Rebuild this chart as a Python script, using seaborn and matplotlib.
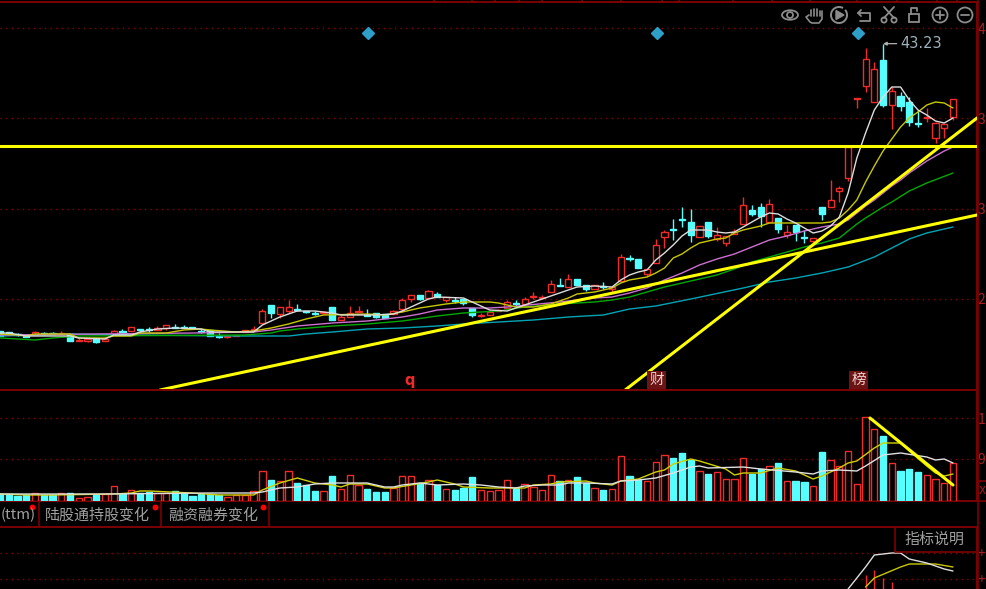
import matplotlib
matplotlib.use("Agg")
import matplotlib.pyplot as plt
from matplotlib.patches import Arc, Circle, Ellipse, Rectangle
import numpy as np
import pandas as pd
import seaborn as sns

# 1. Candles, one per trading day
opens = [14.5,14.4,14.2,14.1,14.2,14.3,14.3,14.2,14.2,13.5,
         13.5,13.8,13.5,14.1,14.5,14.5,14.7,14.7,14.6,14.8,
         14.9,14.9,14.9,14.5,14.6,14.0,13.9,14.0,14.4,14.6,
         15.3,17.1,16.2,16.5,16.7,16.5,16.3,16.3,16.9,15.6,
         15.9,16.4,16.1,16.3,16.2,16.2,16.7,17.7,18.1,17.8,
         18.2,17.6,17.6,17.7,16.8,16.0,16.1,16.5,16.8,17.3,
         17.2,17.9,17.8,18.4,19.1,18.9,19.7,19.1,18.7,19.0,
         18.7,19.5,21.8,21.7,20.2,21.3,23.9,24.7,25.7,25.4,
         23.9,25.4,23.7,23.3,24.2,25.2,26.6,26.9,25.4,25.8,
         24.1,25.1,23.9,23.5,26.9,26.9,28.5,29.8,37.7,39.0,
         37.4,41.6,37.1,38.0,37.4,35.3,35.8,33.8,34.8,35.9]
closes = [14.0,14.2,14.1,13.9,14.4,14.2,14.2,14.3,13.5,13.6,
          13.7,13.4,13.7,14.5,14.1,14.9,14.6,14.6,14.8,15.1,
          14.8,14.8,14.8,14.4,14.0,13.9,14.0,14.1,14.6,14.7,
          16.5,16.3,16.9,16.9,16.6,16.4,16.2,16.4,15.6,15.9,
          16.3,16.5,16.0,15.9,15.8,16.5,17.6,18.1,17.7,18.5,
          17.9,17.9,17.5,17.3,16.1,16.1,16.4,16.6,17.4,17.2,
          17.7,18.0,17.9,19.2,19.0,19.7,19.1,18.7,19.1,18.9,
          18.9,21.9,21.7,20.8,20.7,23.1,24.4,24.6,25.6,24.1,
          25.0,24.0,24.1,24.0,24.4,27.1,26.2,26.0,27.2,24.7,
          24.4,24.4,23.8,23.8,26.2,27.6,28.8,32.9,37.8,41.7,
          40.7,37.1,38.5,37.0,35.4,35.2,35.9,35.3,35.2,37.7]
highs = [14.5,14.4,14.3,14.1,14.5,14.4,14.4,14.5,14.2,13.8,
         13.7,13.8,13.7,14.6,14.7,14.9,14.7,14.9,15.0,15.1,
         15.2,15.1,14.9,14.7,14.6,14.3,14.0,14.1,14.6,15.0,
         16.7,17.1,16.9,17.6,17.2,16.5,16.5,16.5,16.9,16.1,
         17.0,17.0,16.7,16.3,16.2,16.6,17.8,18.1,18.1,18.6,
         18.4,17.9,17.9,17.7,16.8,16.3,16.4,16.7,17.6,17.6,
         17.9,18.4,18.1,19.6,19.8,20.2,19.7,19.1,19.1,19.4,
         18.9,22.2,22.1,21.7,20.7,23.7,24.6,25.7,26.9,26.7,
         25.0,25.4,24.9,24.0,24.7,27.9,27.1,27.3,27.7,25.8,
         25.1,25.1,24.6,23.8,26.9,29.6,29.0,32.9,37.8,42.8,
         41.4,43.23,38.9,38.4,37.9,36.6,36.8,35.4,35.2,37.7]
lows = [14.0,14.1,14.0,13.9,14.2,14.1,14.2,14.2,13.5,13.5,
        13.4,13.3,13.5,14.1,14.1,14.5,14.4,14.4,14.6,14.6,
        14.8,14.8,14.7,14.3,14.0,13.8,13.8,14.0,14.4,14.5,
        15.3,15.8,15.8,16.3,16.5,16.3,16.1,16.2,15.6,15.6,
        15.9,16.4,16.0,15.8,15.8,16.2,16.4,17.4,17.6,17.7,
        17.9,17.4,17.3,17.1,15.9,15.9,16.1,16.5,16.8,17.0,
        17.1,17.7,17.7,18.4,19.0,18.9,19.1,18.5,18.7,18.7,
        18.4,19.5,21.5,20.8,20.0,21.3,22.8,23.6,24.9,23.4,
        23.9,23.8,23.5,23.0,24.2,25.2,26.0,24.9,25.4,24.3,
        23.8,23.5,23.3,23.1,25.6,26.9,27.4,29.5,36.8,38.4,
        37.4,36.9,34.7,36.5,35.0,34.9,35.4,33.3,33.8,35.6]

# 2. Moving averages on the price panel (day index + value)
ma5_day = [0,1,3,8,9,12,13,15,16,18,20,23,24,27,29,30,32,34,36,38,39,43,45,46,48,49,50,53,54,55,56,58,59,60,62,64,66,68,70,
           71,72,73,74,75,76,77,78,79,80,81,82,83,84,85,86,87,88,89,90,91,92,93,94,95,96,97,98,99,100,101,102,103,104,105,106,107,108,109]
ma5 = [14.3,14.3,14.0,14.0,13.8,13.7,14.1,14.1,14.4,14.7,14.8,14.7,14.4,14.4,14.4,15.1,15.9,16.5,16.5,16.3,16.1,16.1,16.2,16.5,17.3,17.7,17.9,17.8,17.4,17.0,16.6,16.5,16.8,17.1,17.7,18.3,18.9,19.0,18.9,
       19.6,20.1,20.4,20.6,21.6,22.3,23.1,24.0,24.6,24.6,24.6,24.4,24.3,24.4,24.9,25.4,25.9,26.3,26.2,25.7,25.3,24.8,24.3,24.5,25.0,25.9,28.3,31.8,34.3,36.6,37.9,38.9,38.9,37.6,36.6,36.1,35.5,35.3,35.8]

ma10_day = [0,2,3,4,8,9,12,13,15,16,19,21,23,24,27,29,31,33,35,37,42,44,46,48,51,53,56,57,59,61,63,65,66,68,70,71,72,74,75,76,77,78,79,80,81,82,83,84,85,86,87,88,92,94,95,96,97,98,99,100,101,102,103,104,105,106,107,108,109]
ma10 = [14.2,14.1,14.0,14.2,14.2,13.8,13.8,14.0,14.0,14.3,14.3,14.6,14.7,14.6,14.4,14.5,14.8,15.2,15.7,16.1,16.2,16.1,16.4,16.8,17.2,17.4,17.4,17.3,16.9,16.9,17.2,17.8,18.2,18.4,18.8,19.3,19.6,19.9,20.3,20.8,21.8,22.2,22.8,23.3,23.5,23.7,23.8,24.3,24.6,24.8,25.0,25.3,25.3,25.3,25.4,25.8,26.6,27.6,29.4,31.0,32.5,33.7,34.9,35.8,36.4,37.1,37.4,37.3,36.8]

ma20_day = [0,22,29,31,34,38,42,46,48,50,53,56,58,64,68,70,72,74,76,78,80,82,84,86,88,90,92,94,96,97,98,99,100,101,102,103,104,105,106,107,108,109]
ma20 = [14.1,14.3,14.4,14.6,15.0,15.3,15.5,15.9,16.2,16.6,16.8,16.8,16.9,17.4,17.8,17.9,18.3,18.8,19.6,20.3,21.1,21.7,22.2,22.9,23.6,24.0,24.5,24.9,25.2,25.6,26.3,27.0,27.6,28.3,29.0,29.6,30.3,30.9,31.5,32.0,32.5,32.9]

ma30_day = [0,4,6,9,28,31,32,34,38,42,46,50,53,57,60,64,68,70,72,74,76,78,80,82,84,86,88,90,92,94,96,97,98,99,101,102,104,106,109]
ma30 = [13.8,13.6,13.8,14.0,14.1,14.3,14.5,14.7,15.0,15.2,15.5,16.0,16.3,16.5,16.9,17.2,17.4,17.6,17.9,18.4,18.9,19.3,19.7,20.1,20.7,21.4,21.9,22.4,22.9,23.3,23.8,24.5,25.2,25.8,26.9,27.4,28.5,29.3,30.3]

ma60_day = [0,8,15,27,33,35,38,42,46,50,53,57,61,65,69,72,75,79,85,88,91,94,97,100,102,104,106,109]
ma60 = [14.0,14.2,14.1,14.0,14.0,14.2,14.4,14.7,14.8,15.0,15.2,15.4,15.6,15.9,16.1,16.7,17.0,17.7,18.8,19.4,19.8,20.3,20.9,21.9,22.8,23.7,24.3,24.9]

# hand drawn trend lines
flat_day, flat_price = [0, 112], [33.0, 33.0]
slow_day, slow_price = [18.3, 111.75], [8.6, 26.1]
fast_day, fast_price = [71.5, 111.75], [8.6, 35.8]

# 3. Volume panel
volume = [7,7,5,6,8,6,6,8,8,3,4,6,7,15,7,11,8,9,8,8,10,8,5,7,7,6,4,6,6,10,
          30,21,20,30,18,16,10,10,25,12,26,16,12,9,9,13,25,25,18,21,16,12,11,13,24,11,10,11,21,13,
          17,14,11,26,20,21,24,18,13,11,12,45,25,21,20,39,46,43,48,41,30,27,29,22,22,43,27,32,35,38,
          20,20,19,15,49,41,35,50,17,84,72,65,38,30,32,29,26,22,18,38]
vol_white_day = [0,12,24,29,30,32,34,36,38,42,43,44,45,46,47,48,50,53,55,57,59,60,62,64,65,67,70,71,73,74,75,77,79,80,81,85,87,91,93,94,96,98,99,101,103,106,107,108,109]
vol_white = [7,7,8,8,9,13,14,17,18,18,16,14,14,16,17,18,16,17,16,14,13,15,16,16,18,18,17,20,21,22,23,28,34,35,33,34,32,29,27,30,31,30,35,46,48,44,41,42,38]
vol_olive_day = [0,3,6,13,15,16,17,22,25,29,30,32,34,36,38,39,40,42,44,45,47,49,50,52,53,56,60,61,63,64,67,68,70,71,73,75,76,77,79,80,83,84,85,87,89,91,93,94,96,97,98,100,101,103,104,106,107,108,109]
vol_olive = [7,6,6,7,8,10,10,8,6,6,11,18,23,18,16,14,17,17,13,13,16,19,21,17,14,13,13,16,17,19,20,18,16,20,22,29,31,37,42,40,32,26,28,28,33,30,22,25,33,38,40,53,58,58,50,35,28,25,27]
vol_trend_day, vol_trend = [99.5, 109], [83, 16]

# 4. Bottom indicator panel
ind_white_day = [97,99,100,101,102,103,104,106,108,109]
ind_white = [0,22,34,35,36,36,30,26,20,18]
ind_olive_day = [99,100,103,104,107,109]
ind_olive = [2,11,22,25,25,22]
stick_day = [99,100,101,102]
stick_val = [14,19,11,7]

price_ticks, price_labels = [44.8, 35.8, 26.7, 17.7], ["4", "3", "3", "2"]
vol_ticks, vol_labels = [83, 42], ["1", "9"]
ind_ticks, ind_labels = [36, 10], ["+", "+"]
flag_days = [42.1, 75.1, 98.1]
tab_names = ["(ttm)", "陆股通持股变化", "融资融券变化"]
top_ticks = [434,472,495,519,542,582,621,662,679,733,772,810,857,897,937,957]

RED = "#f02a2a"
CYAN = "#55ffff"
DARK = "#7c0000"
LABEL = "#a82020"
GREY = "#a0a0a0"
ICON = "#8c8c8c"
W, H = 986, 589

sns.set_theme(style="dark", rc={"figure.facecolor": "black", "axes.facecolor": "black",
                                "axes.edgecolor": DARK, "savefig.facecolor": "black"})
plt.rcParams['font.family'] = ['Noto Sans CJK SC', 'DejaVu Sans']

fig = plt.figure(figsize=(W / 100, H / 100), dpi=100)


def panel(top, bottom, ylim):
    ax = fig.add_axes([0, 1 - bottom / H, 977 / W, (bottom - top) / H])
    ax.set_xlim(-0.01, 977 / 8.743)
    ax.set_ylim(*ylim)
    ax.set_xticks([])
    ax.spines["left"].set_visible(False)
    for s in ["top", "bottom", "right"]:
        ax.spines[s].set_linewidth(1.4)
    ax.grid(axis="y", color="#8a0000", linestyle=(0, (1, 3)), linewidth=1)
    ax.yaxis.tick_right()
    ax.tick_params(axis="y", length=0, pad=0.5, labelcolor=LABEL)
    return ax


def line(ax, x, y, color, lw=1.0, z=4):
    sns.lineplot(x=x, y=y, ax=ax, color=color, linewidth=lw, legend=False, estimator=None, sort=False, zorder=z)


# 5. Price panel
ax = panel(2, 390, (8.6, 47.4))
df = pd.DataFrame({"o": opens, "c": closes, "h": highs, "l": lows, "v": volume})
df["day"] = np.arange(len(df))
df["up"] = df.c > df.o
ax.vlines(df.day, df.l, df.h, colors=np.where(df.up, RED, CYAN), linewidth=1, zorder=2)
ax.bar(df.day, (df.c - df.o).abs(), bottom=df[["o", "c"]].min(axis=1), width=0.7,
       facecolor=np.where(df.up, "black", CYAN), edgecolor=np.where(df.up, RED, CYAN), linewidth=1, zorder=3)
line(ax, ma60_day, ma60, "#00a4b4")
line(ax, ma30_day, ma30, "#00a800")
line(ax, ma20_day, ma20, "#cc70d0")
line(ax, ma10_day, ma10, "#c8c800")
line(ax, ma5_day, ma5, "#dddddd")
line(ax, flat_day, flat_price, "#ffff00", 2.2, 5)
line(ax, slow_day, slow_price, "#ffff00", 2.2, 5)
line(ax, fast_day, fast_price, "#ffff00", 2.2, 5)
ax.set_xlim(-0.01, 977 / 8.743)
ax.set_ylim(8.6, 47.4)
ax.set_yticks(price_ticks, price_labels, fontsize=10)
ax.set(xlabel=None, ylabel=None)
ax.plot(flag_days, [44.3] * 3, "D", color="#2d9fc8", markersize=6.5, linestyle="none", zorder=6)
ax.annotate("43.23", xy=(101, 43.23), xytext=(900, 545.5), textcoords="figure pixels", color="#9fb0b8",
            fontsize=10.5, va="center", family=["DejaVu Sans"],
            arrowprops=dict(arrowstyle="-|>", color="#b0b0b0", lw=0.9, mutation_scale=5,
                            shrinkA=0, shrinkB=0))
ax.text(46.9, 9.5, "q", color=RED, fontsize=10.5, fontweight="bold", ha="center", va="center", family=["DejaVu Sans"])
for day, txt in [(75.1, "财"), (98.2, "榜")]:
    ax.text(day, 9.6, txt, color="#f0d0d0", fontsize=10.5, ha="center", va="center", zorder=6,
            bbox=dict(facecolor="#6a1414", edgecolor="none", pad=1.5))

# 6. Volume panel
ax2 = panel(390, 501, (0, 111))
ax2.bar(df.day, df.v, width=0.72, facecolor=np.where(df.up, "black", CYAN),
        edgecolor=np.where(df.up, RED, CYAN), linewidth=1, zorder=3)
line(ax2, vol_olive_day, vol_olive, "#d0d000")
line(ax2, vol_white_day, vol_white, "#e0e0e0")
line(ax2, vol_trend_day, vol_trend, "#ffff00", 2.2, 5)
ax2.set_xlim(-0.01, 977 / 8.743)
ax2.set_ylim(0, 111)
ax2.set_yticks(vol_ticks, vol_labels, fontsize=10)
ax2.set(xlabel=None, ylabel=None)

# 7. Bottom panel
ax3 = panel(527, 589, (0, 62))
ax3.vlines(stick_day, 0, stick_val, colors=RED, linewidth=1)
line(ax3, ind_olive_day, ind_olive, "#c8c800")
line(ax3, ind_white_day, ind_white, "#dddddd")
ax3.set_xlim(-0.01, 977 / 8.743)
ax3.set_ylim(0, 62)
ax3.set_yticks(ind_ticks, ind_labels, fontsize=10)
ax3.set(xlabel=None, ylabel=None)
ax3.spines["bottom"].set_visible(False)

# 8. Screen furniture, in pixel coordinates
ov = fig.add_axes([0, 0, 1, 1], facecolor="none")
ov.set_xlim(0, W)
ov.set_ylim(H, 0)
ov.axis("off")
ov.plot([977.5, 977.5], [0, H], color=DARK, lw=1.2)
ov.vlines(top_ticks, 0, 2, color=DARK, lw=1.2)
ov.add_patch(Rectangle((977.5, 481), 9, 20, fill=False, edgecolor=DARK, lw=1.2))
ov.text(978.5, 491, "X", color=LABEL, fontsize=7.5, va="center", family=["DejaVu Sans"])

for x in [38.5, 160.5, 268.5]:
    ov.plot([x, x], [502, 526], color=DARK, lw=1.2)
for x, name in zip([0.5, 45, 168], tab_names):
    ov.text(x, 515, name, color=GREY, fontsize=10.8, va="center")
ov.plot([32, 155, 262.5], [507, 507, 507], "o", color="#ff0000", markersize=3.2)

ov.plot([895, 895, 977], [527, 552, 552], color=DARK, lw=1.2)
ov.text(905, 540, "指标说明", color=GREY, fontsize=10.8, va="center")

# toolbar icons
ic = dict(fill=False, edgecolor=ICON, lw=1.3)
ov.add_patch(Ellipse((790, 15), 16, 9.5, **ic))
ov.add_patch(Circle((790, 15), 3, **ic))
ov.plot([809, 806, 810, 812, 819, 822, 822], [15, 17, 22, 23, 23, 19, 11], color=ICON, lw=1.2)
for fx, ftop in [(811, 10), (814, 8.5), (817, 9), (820, 11)]:
    ov.plot([fx, fx], [ftop, 16], color=ICON, lw=1.2)
ov.add_patch(Arc((839, 15), 16, 16, theta1=-40, theta2=300, edgecolor=ICON, lw=1.4))
ov.fill([836, 836, 844], [10.5, 19.5, 15], color=ICON)
ov.plot([858, 864, 870, 870, 860], [13, 13, 13, 21, 21], color=ICON, lw=1.3)
ov.plot([861, 858, 861], [10, 13, 16], color=ICON, lw=1.3)
ov.plot([884, 894], [7, 18], color=ICON, lw=1.3)
ov.plot([894, 884], [7, 18], color=ICON, lw=1.3)
ov.add_patch(Circle((884, 20), 2.6, **ic))
ov.add_patch(Circle((894, 20), 2.6, **ic))
ov.add_patch(Rectangle((909, 14), 10, 8, **ic))
ov.plot([911, 911, 917, 917], [14, 8, 8, 11], color=ICON, lw=1.3)
ov.add_patch(Circle((940, 15), 7.5, **ic))
ov.plot([936, 944], [15, 15], color=ICON, lw=1.3)
ov.plot([940, 940], [11, 19], color=ICON, lw=1.3)
ov.add_patch(Circle((965, 15), 7.5, **ic))
ov.plot([961, 969], [15, 15], color=ICON, lw=1.3)

fig.savefig("out.png", dpi=100)
